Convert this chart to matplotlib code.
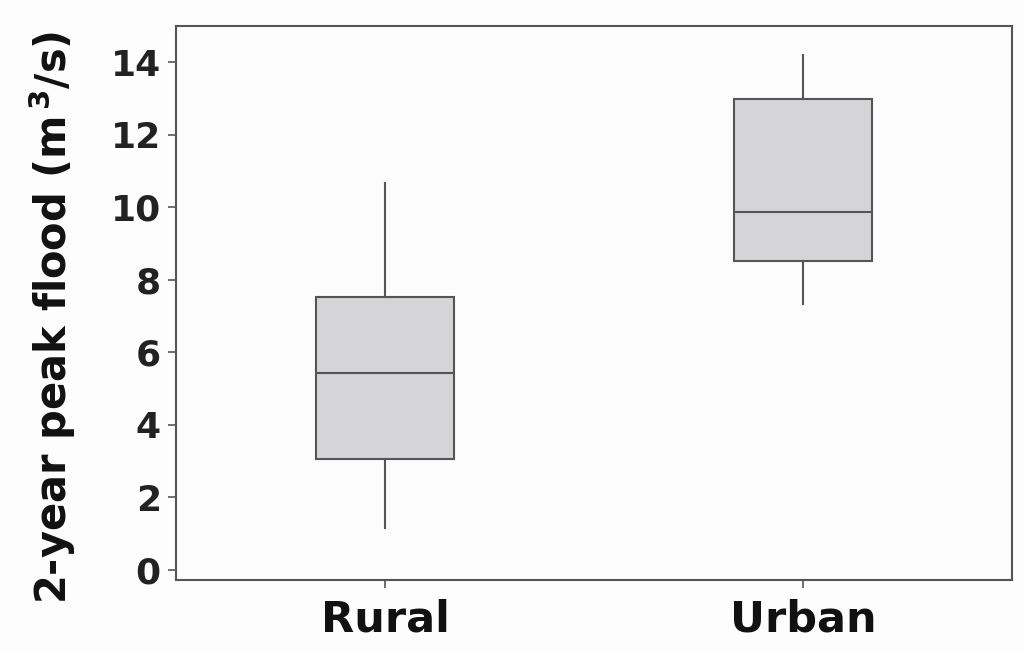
import matplotlib
matplotlib.use("Agg")
import matplotlib.pyplot as plt

# box statistics
groups = ["Rural", "Urban"]
whisker_low = [1.17, 7.33]
q1 = [3.05, 8.51]
median = [5.43, 9.86]
q3 = [7.52, 13.0]
whisker_high = [10.66, 14.21]
yticks = [0, 2, 4, 6, 8, 10, 12, 14]

plt.rcParams['font.family'] = ['DejaVu Sans']
plt.rcParams['mathtext.default'] = 'bf'

line_col = '#555555'

fig = plt.figure(figsize=(10.24, 6.54), dpi=100, facecolor='#fdfdfd')
ax = fig.add_axes([0.172, 0.113, 0.816, 0.847])
ax.set_facecolor('#fcfcfc')

stats = []
for i, g in enumerate(groups):
    stats.append({'label': g, 'whislo': whisker_low[i], 'q1': q1[i], 'med': median[i],
                  'q3': q3[i], 'whishi': whisker_high[i], 'fliers': []})

ax.bxp(stats, positions=[1, 2], widths=0.33, patch_artist=True, showcaps=False,
       boxprops=dict(facecolor='#d5d5d7', edgecolor=line_col, linewidth=1.5),
       medianprops=dict(color=line_col, linewidth=1.5),
       whiskerprops=dict(color=line_col, linewidth=1.5))

ax.set_xlim(0.5, 2.5)
ax.set_ylim(-0.28, 15.0)
ax.set_yticks(yticks)
ax.set_yticklabels([str(t) for t in yticks], fontsize=26, fontweight='bold', color='#222222')
ax.set_xticklabels(groups, fontsize=31, fontweight='bold', color='#111111')

for s in ax.spines.values():
    s.set_color(line_col)
    s.set_linewidth(1.5)
ax.tick_params(axis='both', direction='out', length=6, width=1.2, color=line_col)
ax.tick_params(axis='y', pad=5)
ax.tick_params(axis='x', pad=7)

ax.set_ylabel(r'2-year peak flood (m$^{\,3}$/s)', fontsize=30, fontweight='heavy', color='#111111')
ax.yaxis.set_label_coords(-0.117, 0.475)

fig.savefig('out.png', dpi=100, facecolor=fig.get_facecolor())
